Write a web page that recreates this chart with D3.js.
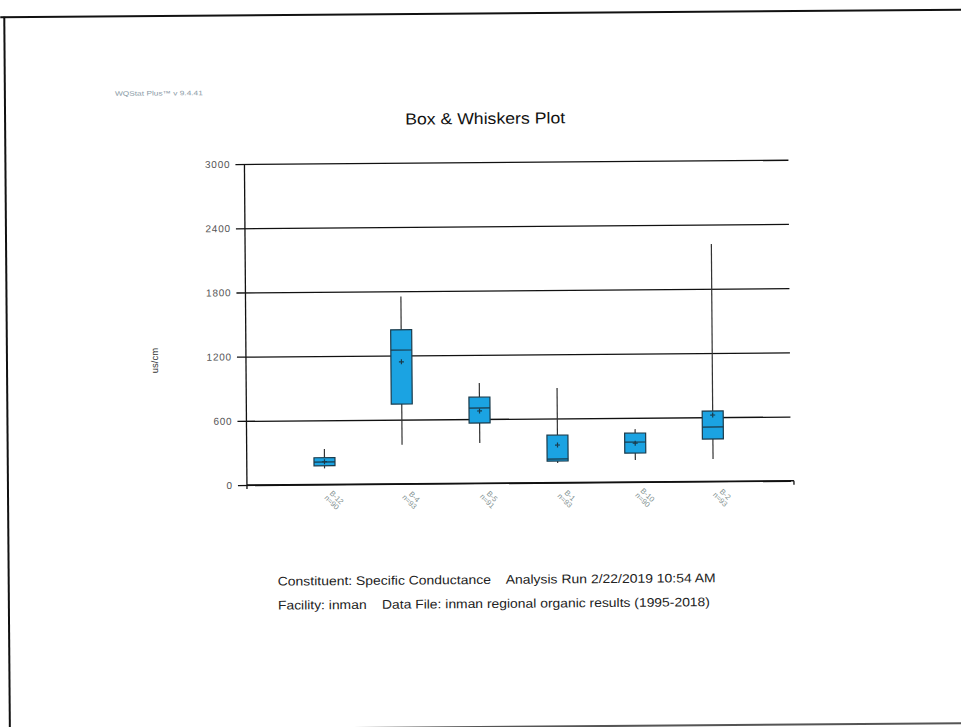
<!DOCTYPE html>
<html>
<head>
<meta charset="utf-8">
<script src="https://cdn.jsdelivr.net/npm/d3@7"></script>
<style>
  html, body { margin: 0; padding: 0; background: #fff; }
  svg { display: block; font-family: Arial, "Liberation Sans", sans-serif; }
</style>
</head>
<body>
<svg id="chart" width="961" height="727"></svg>
<script>
// Well names and sample counts
const wells = ["B-12", "B-4", "B-5", "B-1", "B-10", "B-2"];
const counts = ["n=90", "n=93", "n=91", "n=93", "n=90", "n=93"];
// Box statistics (us/cm)
const mins    = [150, 365, 376, 183, 205, 209];
const q1s     = [175, 745, 563, 201, 270, 396];
const medians = [210, 1250, 703, 220, 373, 508];
const q3s     = [250, 1440, 805, 444, 457, 658];
const maxs    = [330, 1750, 936, 883, 494, 2218];
const means   = [212, 1140, 675, 351, 363, 620];
// Y axis ticks
const yTicks = [0, 600, 1200, 1800, 2400, 3000];

const rows = wells.map((w, i) => ({
  well: w, n: counts[i], min: mins[i], q1: q1s[i], med: medians[i],
  q3: q3s[i], max: maxs[i], mean: means[i]
}));

const svg = d3.select("#chart");
// whole printed page sits slightly skewed
const page = svg.append("g").attr("transform", "rotate(-0.45 480 363)");

// page border
page.append("line").attr("x1", 3).attr("x2", 975).attr("y1", 13.5).attr("y2", 13.5)
  .attr("stroke", "#111").attr("stroke-width", 2);
page.append("line").attr("x1", 7).attr("x2", 7).attr("y1", 13).attr("y2", 740)
  .attr("stroke", "#111").attr("stroke-width", 2);
page.append("line").attr("x1", 300).attr("x2", 975).attr("y1", 727).attr("y2", 727)
  .attr("stroke", "#555").attr("stroke-width", 2);

const plotL = 246, plotR = 790, plotT = 162.2, plotB = 483.2;

const x = d3.scalePoint().domain(wells).range([plotL, plotR]).padding(1);
const y = d3.scaleLinear().domain([0, 3000]).range([plotB, plotT]);

// header texts
page.append("text").attr("x", 117).attr("y", 93).attr("font-size", 6.5)
  .attr("fill", "#8a9aa6").attr("textLength", 88).attr("lengthAdjust", "spacingAndGlyphs")
  .text("WQStat Plus\u2122 v 9.4.41");
page.append("text").attr("x", 487).attr("y", 124).attr("text-anchor", "middle")
  .attr("font-size", 16).attr("fill", "#111")
  .attr("textLength", 160).attr("lengthAdjust", "spacingAndGlyphs")
  .text("Box & Whiskers Plot");

// horizontal grid lines with outside ticks
const yAxis = d3.axisLeft(y).tickValues(yTicks).tickSize(-(plotR - plotL)).tickPadding(14)
  .tickFormat(d3.format("d"));
const gy = page.append("g").attr("transform", `translate(${plotL},0)`).call(yAxis);
gy.select(".domain").remove();
gy.selectAll(".tick line").attr("stroke", "#111").attr("stroke-width", 1.3)
  .attr("x1", -9);
gy.selectAll(".tick text").attr("font-size", 10).attr("fill", "#555")
  .attr("letter-spacing", 0.8)
  .attr("font-family", "Arial, 'Liberation Sans', sans-serif");

// left axis and bottom axis lines
page.append("line").attr("x1", plotL).attr("x2", plotL).attr("y1", plotT).attr("y2", plotB + 4)
  .attr("stroke", "#111").attr("stroke-width", 1.3);
page.append("line").attr("x1", plotL).attr("x2", plotR + 3).attr("y1", plotB).attr("y2", plotB)
  .attr("stroke", "#111").attr("stroke-width", 1.6);
page.append("line").attr("x1", plotR + 3).attr("x2", plotR + 3).attr("y1", plotB).attr("y2", plotB + 4)
  .attr("stroke", "#111").attr("stroke-width", 1.3);

// y title
page.append("text").attr("transform", "translate(158,358) rotate(-90)")
  .attr("text-anchor", "middle").attr("font-size", 9.5).attr("fill", "#333").text("us/cm");

// boxes
const bw = 21;
const g = page.append("g").selectAll("g").data(rows).join("g")
  .attr("transform", d => `translate(${x(d.well)},0)`);

g.append("line").attr("y1", d => y(d.max)).attr("y2", d => y(d.q3))
  .attr("stroke", "#333").attr("stroke-width", 1.2);
g.append("line").attr("y1", d => y(d.q1)).attr("y2", d => y(d.min))
  .attr("stroke", "#333").attr("stroke-width", 1.2);
g.append("rect").attr("x", -bw / 2).attr("width", bw)
  .attr("y", d => y(d.q3)).attr("height", d => y(d.q1) - y(d.q3))
  .attr("fill", "#1ba3e2").attr("stroke", "#1b3a4a").attr("stroke-width", 1.2);
g.append("line").attr("x1", -bw / 2).attr("x2", bw / 2)
  .attr("y1", d => y(d.med)).attr("y2", d => y(d.med))
  .attr("stroke", "#1b3a4a").attr("stroke-width", 1.2);
// mean marker
g.append("path").attr("d", d => `M-2.5,${y(d.mean)}H2.5M0,${y(d.mean) - 2.5}V${y(d.mean) + 2.5}`)
  .attr("stroke", "#1b3a4a").attr("stroke-width", 1.2);

// category labels
const lab = page.append("g").selectAll("text").data(rows).join("text")
  .attr("transform", d => `translate(${x(d.well) + 8},${plotB + 17}) rotate(45)`)
  .attr("text-anchor", "middle").attr("font-size", 7.5).attr("fill", "#7f9090");
lab.append("tspan").attr("x", 0).attr("dy", -3).text(d => d.well);
lab.append("tspan").attr("x", 0).attr("dy", 7).text(d => d.n);

// footer
page.append("text").attr("x", 276).attr("y", 584).attr("font-size", 12.5).attr("fill", "#222")
  .attr("xml:space", "preserve").attr("textLength", 438).attr("lengthAdjust", "spacingAndGlyphs")
  .text("Constituent: Specific Conductance    Analysis Run 2/22/2019 10:54 AM");
page.append("text").attr("x", 276).attr("y", 608).attr("font-size", 12.5).attr("fill", "#222")
  .attr("xml:space", "preserve").attr("textLength", 432).attr("lengthAdjust", "spacingAndGlyphs")
  .text("Facility: inman    Data File: inman regional organic results (1995-2018)");
</script>
</body>
</html>
